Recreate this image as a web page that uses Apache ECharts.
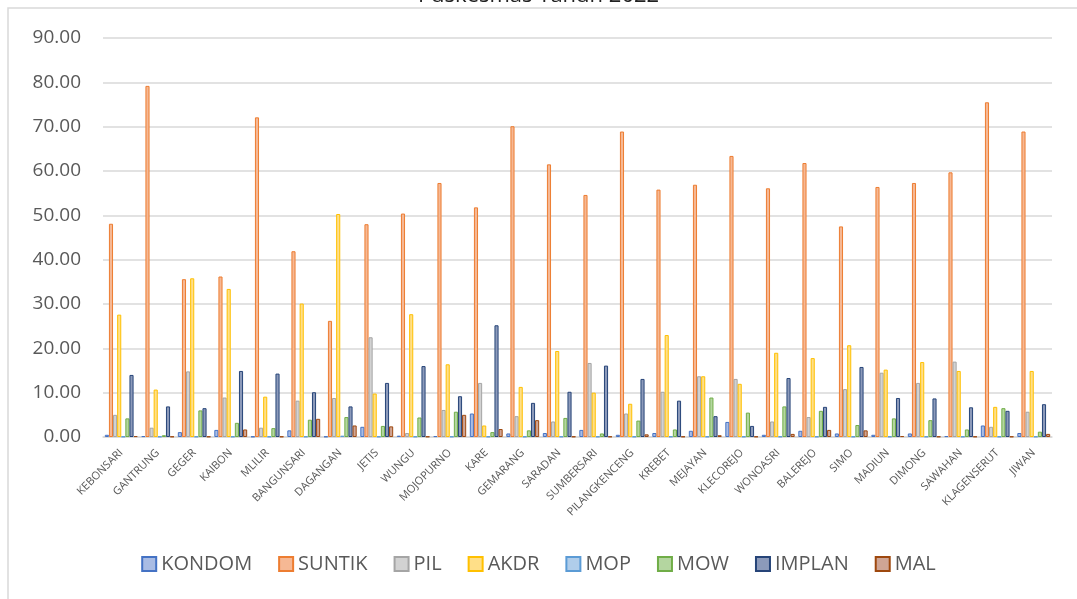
<!DOCTYPE html>
<html>
<head>
<meta charset="utf-8">
<script src="https://cdn.jsdelivr.net/npm/echarts@6/dist/echarts.min.js"></script>
<style>
  html, body { margin: 0; padding: 0; background: #fff; }
  #main { width: 1077px; height: 599px; }
</style>
</head>
<body>
<div id="main"></div>
<script>
// data
var puskesmas = ['KEBONSARI', 'GANTRUNG', 'GEGER', 'KAIBON', 'MLILIR', 'BANGUNSARI', 'DAGANGAN',
    'JETIS', 'WUNGU', 'MOJOPURNO', 'KARE', 'GEMARANG', 'SARADAN', 'SUMBERSARI', 'PILANGKENCENG',
    'KREBET', 'MEJAYAN', 'KLECOREJO', 'WONOASRI', 'BALEREJO', 'SIMO', 'MADIUN', 'DIMONG',
    'SAWAHAN', 'KLAGENSERUT', 'JIWAN'];

var kondom = [0.5, 0.2, 1.1, 1.6, 0.1, 1.5, 0.1, 2.3, 0.3, 0.2, 5.3, 0.8, 0.9, 1.6, 0.5,
    0.9, 1.4, 3.4, 0.5, 1.4, 0.8, 0.5, 0.8, 0.2, 2.6, 0.9];
var suntik = [48.1, 79.2, 35.6, 36.2, 72.1, 41.9, 26.2, 48.0, 50.4, 57.3, 51.8, 70.1, 61.5, 54.6, 68.9,
    55.8, 56.9, 63.4, 56.1, 61.8, 47.5, 56.4, 57.3, 59.7, 75.5, 68.9];
var pil = [5.0, 2.1, 14.8, 8.9, 2.1, 8.2, 8.8, 22.5, 0.9, 6.1, 12.2, 4.7, 3.5, 16.7, 5.3,
    10.2, 13.7, 13.1, 3.5, 4.5, 10.8, 14.5, 12.2, 17.0, 2.3, 5.7];
var akdr = [27.6, 10.7, 35.8, 33.4, 9.1, 30.1, 50.3, 9.8, 27.7, 16.4, 2.6, 11.3, 19.4, 10.0, 7.5,
    23.0, 13.7, 12.0, 19.0, 17.8, 20.7, 15.2, 16.9, 14.9, 6.8, 14.9];
var mop = [0.1, 0.1, 0.1, 0.1, 0.1, 0.1, 0.3, 0.1, 0.1, 0.1, 0.1, 0.1, 0.1, 0.1, 0.1,
    0.1, 0.1, 0.1, 0.1, 0.1, 0.1, 0.1, 0.1, 0.1, 0.1, 0.1];
var mow = [4.2, 0.4, 6.0, 3.2, 2.0, 3.9, 4.5, 2.5, 4.4, 5.7, 1.1, 1.5, 4.3, 0.8, 3.7,
    1.7, 8.9, 5.5, 6.9, 5.9, 2.7, 4.2, 3.8, 1.7, 6.5, 1.2];
var implan = [14.0, 6.9, 6.5, 14.9, 14.3, 10.1, 6.9, 12.2, 16.0, 9.2, 25.2, 7.7, 10.2, 16.1, 13.1,
    8.2, 4.7, 2.5, 13.3, 6.8, 15.8, 8.8, 8.7, 6.7, 5.9, 7.4];
var mal = [0.2, 0.1, 0.1, 1.7, 0.1, 4.1, 2.6, 2.4, 0.1, 5.0, 1.8, 3.8, 0.1, 0.1, 0.6,
    0.1, 0.4, 0.1, 0.7, 1.6, 1.5, 0.2, 0.1, 0.1, 0.1, 0.7];

var seriesNames = ['KONDOM', 'SUNTIK', 'PIL', 'AKDR', 'MOP', 'MOW', 'IMPLAN', 'MAL'];
var seriesData = [kondom, suntik, pil, akdr, mop, mow, implan, mal];
var lineColors = ['#4472C4', '#ED7D31', '#A5A5A5', '#FFC000', '#5B9BD5', '#70AD47', '#264478', '#9E480E'];
var fillColors = ['#A9BCE4', '#F6B894', '#D2D2D2', '#FFDF88', '#B0CDEA', '#B4D6A0', '#8C9ABA', '#CFA595'];

var myChart = echarts.init(document.getElementById('main'));

var series = seriesNames.map(function (name, i) {
    return {
        name: name,
        type: 'bar',
        data: seriesData[i],
        barGap: '0%',
        barCategoryGap: '10%',
        itemStyle: {
            color: fillColors[i],
            borderColor: lineColors[i],
            borderWidth: 1
        }
    };
});

var option = {
    backgroundColor: '#fff',
    animation: false,
    textStyle: { fontFamily: 'Open Sans' },
    title: {
        text: 'Puskesmas Tahun 2022',
        left: 'center',
        top: -20,
        textStyle: { fontSize: 22, fontWeight: 'normal', color: '#222', fontFamily: 'Open Sans' }
    },
    graphic: [{
        type: 'rect',
        shape: { x: 8, y: 8, width: 1100, height: 620 },
        style: { fill: 'none', stroke: '#d9d9d9', lineWidth: 1.5 },
        silent: true
    }],
    legend: {
        bottom: 20,
        left: 'center',
        itemWidth: 14,
        itemHeight: 14,
        itemGap: 26,
        icon: 'rect',
        textStyle: { fontSize: 20, color: '#595959', fontFamily: 'Open Sans' },
        data: seriesNames
    },
    grid: { left: 103, right: 25, top: 38, bottom: 162 },
    xAxis: {
        type: 'category',
        data: puskesmas,
        axisLine: { lineStyle: { color: '#d9d9d9', width: 1.5 } },
        axisTick: { show: false },
        axisLabel: { rotate: 45, fontSize: 11, color: '#595959', interval: 0, margin: 14 }
    },
    yAxis: {
        type: 'value',
        min: 0,
        max: 90,
        interval: 10,
        axisLine: { show: false },
        axisTick: { show: false },
        splitLine: { lineStyle: { color: '#d9d9d9', width: 1.5 } },
        axisLabel: {
            fontSize: 19,
            color: '#595959',
            margin: 22,
            formatter: function (v) { return v.toFixed(2); }
        }
    },
    series: series
};

myChart.setOption(option);
</script>
</body>
</html>
